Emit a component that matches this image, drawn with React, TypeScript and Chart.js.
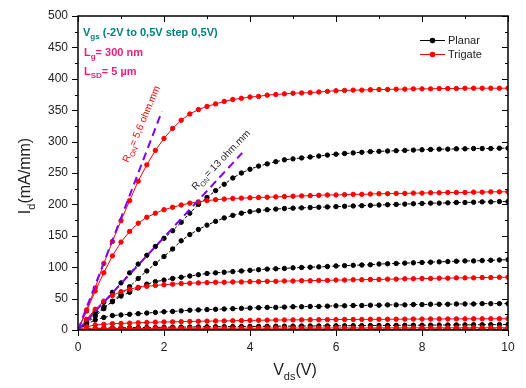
import React, { useEffect, useRef } from 'react';
import { Chart, registerables } from 'chart.js';

Chart.register(...registerables);

const FONT = '"Liberation Sans", Arial, Helvetica, sans-serif';

// Drain voltage (V)
const vds = [
  0, 0.2, 0.4, 0.6, 0.8, 1, 1.2, 1.4, 1.6, 1.8,
  2, 2.2, 2.4, 2.6, 2.8, 3, 3.2, 3.4, 3.6, 3.8,
  4, 4.2, 4.4, 4.6, 4.8, 5, 5.2, 5.4, 5.6, 5.8,
  6, 6.2, 6.4, 6.6, 6.8, 7, 7.2, 7.4, 7.6, 7.8,
  8, 8.2, 8.4, 8.6, 8.8, 9, 9.2, 9.4, 9.6, 9.8,
  10,
];

// Trigate, Vgs = 0.5, 0, -0.5, -1, -1.5, -2 V
const trigateVgs05 = [
  0, 32, 67, 106, 141, 174, 206, 237, 263, 286,
  305, 321, 334, 344, 351, 356, 360, 364, 367, 369,
  371, 372, 374, 375, 376, 377, 377.5, 378, 379, 380,
  381, 381.5, 382, 382, 382.5, 383, 383, 383.5, 383.5, 384,
  384, 384, 384.5, 384.5, 384.5, 385, 385, 385, 385, 385,
  385,
];
const trigateVgs0 = [
  0, 30, 62, 91, 118, 140, 157, 170, 179.5, 186,
  191.5, 195.5, 199, 202, 204, 206, 207.5, 208.5, 209.5, 210,
  210.5, 211, 211.5, 212, 212.5, 213, 213.5, 214, 214.5, 215,
  215, 215.5, 216, 216, 216.5, 217, 217, 217.5, 217.5, 218,
  218, 218.5, 218.5, 219, 219, 219, 219.5, 219.5, 220, 220,
  220,
];
const trigateVgsM05 = [
  0, 17, 33, 46, 55, 61, 65, 68, 69.5, 71,
  72, 73, 74, 74.5, 75, 75.5, 76, 76, 76.5, 76.5,
  77, 77, 77.5, 77.5, 78, 78, 78.5, 78.5, 79, 79,
  79.5, 79.5, 80, 80, 80.5, 80.5, 81, 81, 81.5, 81.5,
  82, 82, 82.5, 82.5, 83, 83, 83, 83.5, 83.5, 84,
  84,
];
const trigateVgsM1 = [
  0, 5, 8, 9, 10, 10.5, 11, 11.5, 12, 12.5,
  12.8, 13, 13.3, 13.6, 13.9, 14.1, 14.3, 14.5, 14.7, 15,
  15.3, 15.5, 15.7, 15.8, 16, 16.1, 16.2, 16.3, 16.4, 16.5,
  16.6, 16.7, 16.8, 16.9, 17, 17, 17.1, 17.2, 17.3, 17.4,
  17.4, 17.5, 17.6, 17.6, 17.7, 17.7, 17.8, 17.8, 17.9, 17.9,
  18,
];
const trigateVgsM15 = [
  0, 1.5, 2, 2.2, 2.3, 2.4, 2.5, 2.5, 2.6, 2.6,
  2.7, 2.7, 2.8, 2.8, 2.8, 2.9, 2.9, 2.9, 3, 3,
  3, 3, 3.1, 3.1, 3.1, 3.1, 3.2, 3.2, 3.2, 3.2,
  3.3, 3.3, 3.3, 3.3, 3.3, 3.4, 3.4, 3.4, 3.4, 3.4,
  3.5, 3.5, 3.5, 3.5, 3.5, 3.5, 3.6, 3.6, 3.6, 3.6,
  3.6,
];
const trigateVgsM2 = [
  0, 0.3, 0.4, 0.4, 0.5, 0.5, 0.5, 0.5, 0.5, 0.5,
  0.5, 0.5, 0.5, 0.5, 0.5, 0.5, 0.5, 0.5, 0.5, 0.5,
  0.6, 0.6, 0.6, 0.6, 0.6, 0.6, 0.6, 0.6, 0.6, 0.6,
  0.6, 0.6, 0.6, 0.6, 0.6, 0.7, 0.7, 0.7, 0.7, 0.7,
  0.7, 0.7, 0.7, 0.7, 0.7, 0.7, 0.7, 0.7, 0.7, 0.7,
  0.7,
];

// Planar, Vgs = 0.5, 0, -0.5, -1, -1.5, -2 V
const planarVgs05 = [
  0, 16, 30, 44, 60, 75, 91, 105, 119, 133,
  146, 158, 171.5, 186, 200, 211, 222, 232, 242, 250,
  256, 261, 264.5, 268, 271, 272.5, 274, 275.5, 277, 278.5,
  280, 281, 282, 283, 284, 284.5, 285, 285.5, 286, 286.5,
  287, 287.5, 288, 288, 288.5, 288.5, 289, 289, 289, 289.5,
  289.5,
];
const planarVgs0 = [
  0, 11, 22, 34, 46, 57, 69, 82, 94, 106,
  117, 129, 142, 152, 160, 167, 173, 178.5, 182.5, 186,
  188.5, 190, 191.5, 192.5, 193.5, 194, 194.5, 195, 195.5, 196,
  196.5, 197, 197.5, 198, 198.5, 199, 199.5, 200, 200.5, 201,
  201.5, 202, 202, 202.5, 203, 203, 203.5, 204, 204, 204.5,
  204.5,
];
const planarVgsM05 = [
  0, 12, 25, 36, 45, 54, 60, 67, 73, 77,
  79.5, 82, 84, 86, 88, 90, 91, 92, 93, 94,
  95, 96, 97, 97.5, 98, 99, 99.5, 100, 100.5, 101,
  102, 102.5, 103, 103.5, 104, 105, 105.5, 106, 106.5, 107,
  107.5, 108, 108.5, 109, 109.5, 110, 110, 110.5, 111, 111.5,
  112,
];
const planarVgsM1 = [
  0, 9, 16, 20, 23, 24, 25, 26, 27, 28,
  29, 29.5, 30.5, 31.5, 32, 32.5, 33, 33.5, 34, 34.5,
  35, 35.5, 36, 36, 36.5, 37, 37, 37.5, 37.5, 38,
  38.5, 38.5, 39, 39, 39.5, 39.5, 40, 40, 40, 40.5,
  40.5, 41, 41, 41, 41.5, 41.5, 41.5, 42, 42, 42,
  42,
];
const planarVgsM15 = [
  0, 1.5, 2.5, 3, 3.3, 3.5, 3.7, 3.9, 4, 4.2,
  4.4, 4.5, 4.7, 4.8, 5, 5.1, 5.2, 5.4, 5.5, 5.6,
  5.7, 5.8, 5.9, 6, 6.1, 6.2, 6.3, 6.4, 6.5, 6.6,
  6.7, 6.8, 6.9, 7, 7.1, 7.2, 7.3, 7.4, 7.5, 7.6,
  7.7, 7.8, 7.9, 8, 8.1, 8.2, 8.3, 8.4, 8.5, 8.6,
  8.7,
];
const planarVgsM2 = [
  0, 0.5, 0.8, 1, 1, 1.1, 1.1, 1.2, 1.2, 1.2,
  1.2, 1.2, 1.3, 1.3, 1.3, 1.3, 1.3, 1.3, 1.3, 1.3,
  1.4, 1.4, 1.4, 1.4, 1.4, 1.4, 1.4, 1.4, 1.4, 1.4,
  1.5, 1.5, 1.5, 1.5, 1.5, 1.5, 1.5, 1.5, 1.5, 1.5,
  1.5, 1.5, 1.6, 1.6, 1.6, 1.6, 1.6, 1.6, 1.6, 1.6,
  1.6,
];

// On-resistance fit lines (x in V, y in mA/mm)
const fitTrigateX = [0, 1.95];
const fitTrigateY = [0, 348];
const fitPlanarX = [0, 3.82];
const fitPlanarY = [0, 282];

const planarSeries = [planarVgs05, planarVgs0, planarVgsM05, planarVgsM1, planarVgsM15, planarVgsM2];
const trigateSeries = [trigateVgs05, trigateVgs0, trigateVgsM05, trigateVgsM1, trigateVgsM15, trigateVgsM2];

const X_MIN = 0, X_MAX = 10, X_STEP = 2;
const Y_MIN = 0, Y_MAX = 500, Y_STEP = 50;

type Part = { t: string; sub?: boolean };

function fontStr(size: number, bold: boolean) {
  return `${bold ? 'bold ' : ''}${size}px ${FONT}`;
}

function measureParts(ctx: CanvasRenderingContext2D, parts: Part[], size: number, subSize: number, bold: boolean) {
  let w = 0;
  for (const p of parts) {
    ctx.font = fontStr(p.sub ? subSize : size, bold);
    w += ctx.measureText(p.t).width;
  }
  return w;
}

function drawParts(
  ctx: CanvasRenderingContext2D, x: number, y: number, parts: Part[],
  size: number, subSize: number, subShift: number, bold: boolean, color: string
) {
  let cx = x;
  ctx.fillStyle = color;
  ctx.textBaseline = 'alphabetic';
  ctx.textAlign = 'left';
  for (const p of parts) {
    ctx.font = fontStr(p.sub ? subSize : size, bold);
    ctx.fillText(p.t, cx, y + (p.sub ? subShift : 0));
    cx += ctx.measureText(p.t).width;
  }
}

const decorPlugin = {
  id: 'decor',
  afterDraw(chart: any) {
    const ctx: CanvasRenderingContext2D = chart.ctx;
    const { left, right, top, bottom } = chart.chartArea;
    const xs = chart.scales.x;
    const ys = chart.scales.y;
    ctx.save();

    // ticks
    ctx.strokeStyle = '#000';
    ctx.lineWidth = 1;
    ctx.beginPath();
    for (let i = X_MIN; i <= X_MAX; i += 1) {
      const px = Math.round(xs.getPixelForValue(i)) + 0.5;
      const len = i % 2 === 0 ? 6 : 3;
      ctx.moveTo(px, bottom); ctx.lineTo(px, bottom + len);
      ctx.moveTo(px, top); ctx.lineTo(px, top + len);
    }
    for (let v = Y_MIN; v <= Y_MAX; v += 25) {
      const py = Math.round(ys.getPixelForValue(v)) + 0.5;
      const len = v % 50 === 0 ? 6 : 3;
      ctx.moveTo(left, py); ctx.lineTo(left - len, py);
      ctx.moveTo(right, py); ctx.lineTo(right - len, py);
    }
    ctx.stroke();

    // frame
    ctx.lineWidth = 1.5;
    ctx.strokeRect(left, top, right - left, bottom - top);

    // axis titles
    const color = '#222';
    const xParts: Part[] = [{ t: 'V' }, { t: 'ds', sub: true }, { t: '(V)' }];
    const xw = measureParts(ctx, xParts, 16, 11, false);
    drawParts(ctx, (left + right) / 2 - xw / 2 + 2, 375, xParts, 16, 11, 5, false, color);

    const yParts: Part[] = [{ t: 'I' }, { t: 'd', sub: true }, { t: '(mA/mm)' }];
    const yw = measureParts(ctx, yParts, 16, 11, false);
    ctx.save();
    ctx.translate(30, (top + bottom) / 2 + yw / 2 + 3);
    ctx.rotate(-Math.PI / 2);
    drawParts(ctx, 0, 0, yParts, 16, 11, 5, false, color);
    ctx.restore();

    // annotations
    drawParts(ctx, left + 5, 36, [{ t: 'V' }, { t: 'gs', sub: true }, { t: ' (-2V to 0,5V step 0,5V)' }], 11, 8, 3, true, '#008080');
    drawParts(ctx, left + 6, 56, [{ t: 'L' }, { t: 'g', sub: true }, { t: '= 300 nm' }], 11, 8, 3, true, '#ee1d7a');
    drawParts(ctx, left + 6, 75, [{ t: 'L' }, { t: 'SD', sub: true }, { t: '= 5 µm' }], 11, 8, 3, true, '#ee1d7a');

    ctx.save();
    ctx.translate(xs.getPixelForValue(1.17), ys.getPixelForValue(266));
    ctx.rotate((-67 * Math.PI) / 180);
    drawParts(ctx, 0, 0, [{ t: 'R' }, { t: 'ON', sub: true }, { t: '= 5,6 ohm.mm' }], 10, 7, 3, false, '#ff0000');
    ctx.restore();

    ctx.save();
    ctx.translate(xs.getPixelForValue(2.74), ys.getPixelForValue(222));
    ctx.rotate((-46 * Math.PI) / 180);
    drawParts(ctx, 0, 0, [{ t: 'R' }, { t: 'ON', sub: true }, { t: '= 13 ohm.mm' }], 10, 7, 3, false, '#222');
    ctx.restore();

    // legend
    const legend = [
      { label: 'Planar', color: '#000', y: 40 },
      { label: 'Trigate', color: '#ff0000', y: 54 },
    ];
    for (const it of legend) {
      ctx.strokeStyle = it.color;
      ctx.lineWidth = 1;
      ctx.beginPath();
      ctx.moveTo(420, it.y + 0.5);
      ctx.lineTo(445, it.y + 0.5);
      ctx.stroke();
      ctx.fillStyle = it.color;
      ctx.beginPath();
      ctx.arc(432.5, it.y + 0.5, 2.8, 0, Math.PI * 2);
      ctx.fill();
      ctx.fillStyle = '#222';
      ctx.font = fontStr(11, false);
      ctx.textBaseline = 'middle';
      ctx.textAlign = 'left';
      ctx.fillText(it.label, 448, it.y + 1);
    }
    ctx.restore();
  },
};

export default function App() {
  const ref = useRef<HTMLCanvasElement | null>(null);

  useEffect(() => {
    document.body.style.margin = '0';
    const canvas = ref.current;
    if (!canvas) return;

    const toPts = (ys: number[]) => ys.map((y, i) => ({ x: vds[i], y }));

    const datasets: any[] = [
      {
        label: 'fit5.6',
        data: fitTrigateX.map((x, i) => ({ x, y: fitTrigateY[i] })),
        borderColor: '#8000ff',
        borderWidth: 2,
        borderDash: [8, 5],
        pointRadius: 0,
        order: 0,
      },
      {
        label: 'fit13',
        data: fitPlanarX.map((x, i) => ({ x, y: fitPlanarY[i] })),
        borderColor: '#8000ff',
        borderWidth: 2,
        borderDash: [8, 5],
        pointRadius: 0,
        order: 0,
      },
    ];
    planarSeries.forEach((s) => {
      datasets.push({
        label: 'Planar',
        data: toPts(s),
        borderColor: '#000',
        backgroundColor: '#000',
        borderWidth: 1,
        borderDash: [3, 2],
        pointRadius: 2.2,
        pointBorderWidth: 1,
        pointBackgroundColor: '#000',
        pointBorderColor: '#000',
        order: 2,
      });
    });
    trigateSeries.forEach((s) => {
      datasets.push({
        label: 'Trigate',
        data: toPts(s),
        borderColor: '#ff0000',
        backgroundColor: '#ff0000',
        borderWidth: 1,
        pointRadius: 2.2,
        pointBorderWidth: 1,
        pointBackgroundColor: '#ff0000',
        pointBorderColor: '#ff0000',
        order: 1,
      });
    });

    const chart = new Chart(canvas, {
      type: 'line',
      data: { datasets },
      options: {
        responsive: false,
        animation: false,
        devicePixelRatio: 1,
        layout: { padding: { top: 16, right: 18, left: 0, bottom: 0 } },
        plugins: { legend: { display: false }, tooltip: { enabled: false } },
        elements: { line: { tension: 0 } },
        scales: {
          x: {
            type: 'linear',
            min: X_MIN,
            max: X_MAX,
            ticks: {
              stepSize: X_STEP,
              color: '#222',
              font: { family: FONT, size: 12 },
              padding: 4,
              maxRotation: 0,
            },
            grid: { display: false, drawTicks: true, tickLength: 6 },
            border: { display: false },
            afterFit: (s: any) => { s.height = 58; },
          },
          y: {
            type: 'linear',
            min: Y_MIN,
            max: Y_MAX,
            ticks: {
              stepSize: Y_STEP,
              color: '#222',
              font: { family: FONT, size: 12 },
              padding: 4,
            },
            grid: { display: false, drawTicks: true, tickLength: 6 },
            border: { display: false },
            afterFit: (s: any) => { s.width = 78; },
          },
        },
      },
      plugins: [decorPlugin],
    });
    return () => chart.destroy();
  }, []);

  return (
    <div style={{ width: 526, height: 388, background: '#fff' }}>
      <canvas ref={ref} width={526} height={388} style={{ display: 'block' }} />
    </div>
  );
}
